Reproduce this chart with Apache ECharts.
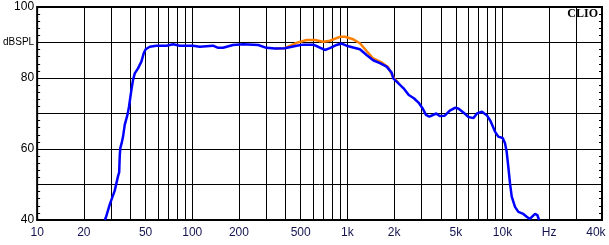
<!DOCTYPE html>
<html><head><meta charset="utf-8">
<script src="https://cdn.jsdelivr.net/npm/echarts@6/dist/echarts.min.js"></script>
<style>html,body{margin:0;padding:0;background:#fff}#c{width:609px;height:245px}</style>
</head><body><div id="c"></div>
<script>
const xLabelFreqs = [10, 20, 50, 100, 200, 500, 1000, 2000, 5000, 10000, 20000, 40000];
const xLabelTexts = ['10', '20', '50', '100', '200', '500', '1k', '2k', '5k', '10k', 'Hz', '40k'];
const xGridFreqs = [20, 30, 40, 50, 60, 70, 80, 90, 100, 200, 300, 400, 500, 600, 700, 800, 900,
  1000, 2000, 3000, 4000, 5000, 6000, 7000, 8000, 9000, 10000, 20000, 30000];
const yTicks = [40, 50, 60, 70, 80, 90, 100];
const yLabelTexts = ['40', '', '60', '', '80', 'dBSPL', '100'];

const freqBlue = [27.3, 27.7, 29.4, 31.6, 33.3, 33.8, 34.1, 34.4, 35.0, 35.8, 36.7, 38.2, 39.1, 40.5, 41.5, 42.6,
  44.7, 47.0, 48.7, 50.1, 53.2, 58.7, 68.2, 75.2, 83.1, 101, 112, 136, 147, 158, 183, 213, 266, 301, 341,
  395, 470, 519, 602, 648, 716, 771, 852, 918, 988, 1090, 1204, 1330, 1467, 1621, 1790, 1929, 1977, 2135,
  2303, 2487, 2684, 2897, 3050, 3210, 3379, 3741, 3935, 4243, 4575, 4934, 5190, 5595, 6034, 6506, 6842,
  7378, 7956, 8368, 8946, 9396, 10030, 10380, 10640, 10900, 11180, 11470, 12040, 12650, 13000, 13620,
  14330, 15000, 15430, 16210, 16770, 17200];
const splBlue = [40.0, 40.6, 44.4, 48.2, 52.5, 53.4, 58.3, 60.3, 61.5, 63.5, 66.8, 69.6, 71.9, 76.6, 79.4, 81.3,
  82.7, 84.6, 87.0, 88.1, 88.8, 89.1, 89.1, 89.5, 89.1, 89.1, 88.8, 89.1, 88.5, 88.5, 89.3, 89.5, 89.3, 88.5, 88.3,
  88.4, 89.1, 89.4, 89.4, 88.8, 87.9, 88.4, 89.3, 89.7, 89.1, 88.6, 88.1, 86.5, 85.0, 84.2, 83.2, 81.5, 79.9, 78.5,
  77.1, 75.2, 74.3, 72.9, 71.5, 69.6, 69.1, 70.0, 69.3, 69.4, 70.8, 71.6, 71.4, 70.3, 69.0, 68.7, 70.0,
  70.5, 69.4, 67.9, 64.9, 63.5, 63.1, 61.6, 59.2, 55.0, 50.3, 46.6, 43.7, 42.3, 42.0, 41.7,
  40.9, 40.3, 40.2, 41.7, 41.4, 40.0];

const freqOrange = [341, 395, 470, 546, 617, 698, 771, 895, 964, 1090, 1204, 1330, 1467, 1662, 1833, 1977, 2135];
const splOrange = [88.3, 88.4, 89.9, 90.7, 90.7, 90.2, 90.5, 91.6, 91.6, 90.9, 89.8, 87.6, 85.5, 84.4, 83.0, 80.2, 78.6];

const chart = echarts.init(document.getElementById('c'), null, {renderer: 'canvas'});
const blueData = freqBlue.map((f, i) => [f, splBlue[i]]);
const orangeData = freqOrange.map((f, i) => [f, splOrange[i]]);

const yAxisCommon = {
  type: 'value', min: 40, max: 100, interval: 10,
  axisLine: {show: false},
  axisTick: {show: true, inside: true, length: 3, lineStyle: {color: '#000', width: 1}},
  minorTick: {show: true, splitNumber: 5, length: 3, lineStyle: {color: '#000', width: 1}},
  splitLine: {show: true, lineStyle: {color: '#000', width: 1}}
};

chart.setOption({
  backgroundColor: '#fff',
  animation: false,
  grid: {left: 37, right: 7, top: 7, bottom: 25, show: true, borderColor: '#000', borderWidth: 2, backgroundColor: 'transparent'},
  xAxis: {
    type: 'log', logBase: 10, min: 10, max: 43800,
    axisLine: {show: false},
    axisTick: {show: false, customValues: xGridFreqs},
    splitLine: {show: true, lineStyle: {color: '#000', width: 1}},
    minorTick: {show: false}, minorSplitLine: {show: false},
    axisLabel: {
      customValues: xLabelFreqs,
      margin: 7,
      color: '#141450',
      fontFamily: 'Liberation Sans, Arial, sans-serif',
      fontSize: 12,
      formatter: function (v) {
        let best = 0, bd = Infinity;
        xLabelFreqs.forEach((f, i) => { const d = Math.abs(Math.log10(f) - Math.log10(v)); if (d < bd) { bd = d; best = i; } });
        return xLabelTexts[best];
      }
    }
  },
  yAxis: [
    Object.assign({}, yAxisCommon, {
      position: 'left',
      axisLabel: {
        margin: 3, color: '#000', fontSize: 12, fontFamily: 'Liberation Sans, Arial, sans-serif',
        formatter: function (v) {
          const i = yTicks.indexOf(Math.round(v));
          const t = i >= 0 ? yLabelTexts[i] : '';
          return t === 'dBSPL' ? '{u|' + t + '}' : t;
        },
        rich: {u: {fontSize: 10, fontFamily: 'Liberation Sans, Arial, sans-serif', color: '#000'}}
      }
    }),
    Object.assign({}, yAxisCommon, {
      position: 'right',
      splitLine: {show: false},
      axisLabel: {show: false}
    })
  ],
  graphic: [{
    type: 'text', right: 11, top: 8,
    style: {text: 'CLIO', font: 'bold 12px "Liberation Serif", "Times New Roman", serif', fill: '#000'}
  }],
  series: [
    {type: 'line', data: orangeData, showSymbol: false, symbol: 'none', color: '#ff8000',
      lineStyle: {color: '#ff8000', width: 2.5}, z: 3, clip: true},
    {type: 'line', data: blueData, showSymbol: false, symbol: 'none', color: '#0000ff',
      lineStyle: {color: '#0000ff', width: 2.5}, z: 4, clip: true}
  ]
});
</script>
</body></html>
